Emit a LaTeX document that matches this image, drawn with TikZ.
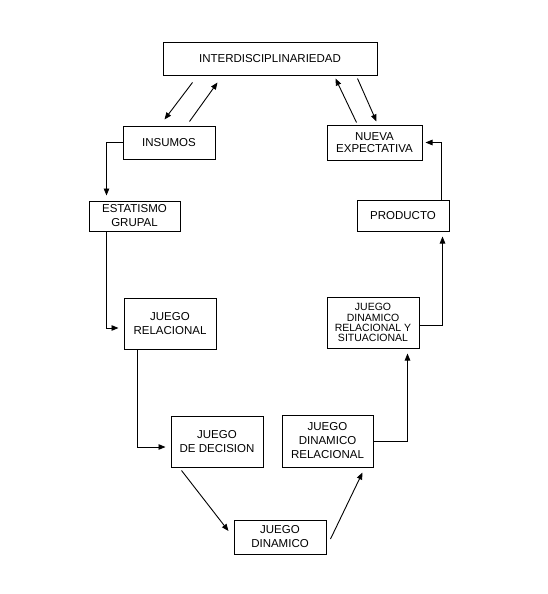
\documentclass[tikz,border=0pt]{standalone}
\usepackage{fontspec}
\setmainfont{Liberation Sans}
\usetikzlibrary{arrows.meta}
\begin{document}
\begin{tikzpicture}[x=1pt,y=-1pt,
  box/.style={draw,line width=1pt,inner sep=0pt,align=center,
    font=\fontsize{11.5}{14}\selectfont},
  arr/.style={line width=0.9pt,-{Triangle[length=7pt,width=5.5pt]},shorten >=5pt},
  darr/.style={line width=0.9pt,-{Triangle[length=7pt,width=5.5pt]}}]
\useasboundingbox (0,0) rectangle (548,594);
\node[box,minimum width=214pt,minimum height=32pt] (inter) at (270,59) {INTERDISCIPLINARIEDAD};
\node[box,minimum width=92pt,minimum height=33pt] (insumos) at (169,142.5) {INSUMOS};
\node[box,minimum width=95pt,minimum height=35pt,font=\fontsize{11.5}{12.5}\selectfont] (nueva) at (374.5,142.5) {NUEVA\\EXPECTATIVA};
\node[box,minimum width=91pt,minimum height=30pt] (estat) at (134.5,216) {ESTATISMO\\GRUPAL};
\node[box,minimum width=92pt,minimum height=31pt] (producto) at (403,215.5) {PRODUCTO};
\node[box,minimum width=92pt,minimum height=51pt] (jrel) at (170,323.5) {JUEGO\\RELACIONAL};
\node[box,minimum width=92pt,minimum height=51pt,font=\fontsize{10.5}{10.2}\selectfont] (jdrs) at (373,322.5) {JUEGO\\DINAMICO\\RELACIONAL Y\\SITUACIONAL};
\node[box,minimum width=92pt,minimum height=51pt] (jdec) at (217,441.5) {JUEGO\\DE DECISION};
\node[box,minimum width=91pt,minimum height=52pt] (jdr) at (327.5,441) {JUEGO\\DINAMICO\\RELACIONAL};
\node[box,minimum width=92pt,minimum height=34pt] (jdin) at (280,537) {JUEGO\\DINAMICO};
% top double arrows
\draw[darr] ([xshift=30pt,yshift=-7pt]inter.south west) -- ([xshift=42pt,yshift=6pt]insumos.north west);
\draw[darr] ([xshift=67pt,yshift=4pt]insumos.north west) -- ([xshift=55pt,yshift=-7pt]inter.south west);
\draw[darr] ([xshift=30pt,yshift=2pt]nueva.north west) -- ([xshift=-42pt,yshift=-3pt]inter.south east);
\draw[darr] ([xshift=-20pt,yshift=-3pt]inter.south east) -- ([xshift=50pt,yshift=3pt]nueva.north west);
% chain
\draw[arr] (insumos.west) -| ([xshift=18pt]estat.north west);
\draw[arr] ([xshift=18pt]estat.south west) |- ([yshift=-4.5pt]jrel.west);
\draw[arr] ([xshift=14pt]jrel.south west) |- ([yshift=-5.5pt]jdec.west);
\draw[darr] ([xshift=11pt,yshift=-3pt]jdec.south west) -- ([xshift=-5pt,yshift=6pt]jdin.west);
\draw[darr] ([xshift=4pt,yshift=-2pt]jdin.east) -- ([xshift=-11pt,yshift=-5pt]jdr.south east);
\draw[arr] (jdr.east) -| ([xshift=81pt]jdrs.south west);
\draw[arr] ([yshift=-2.5pt]jdrs.east) -| ([xshift=86pt]producto.south west);
\draw[arr,shorten >=3pt] ([xshift=85pt]producto.north west) |- (nueva.east);
\end{tikzpicture}
\end{document}
